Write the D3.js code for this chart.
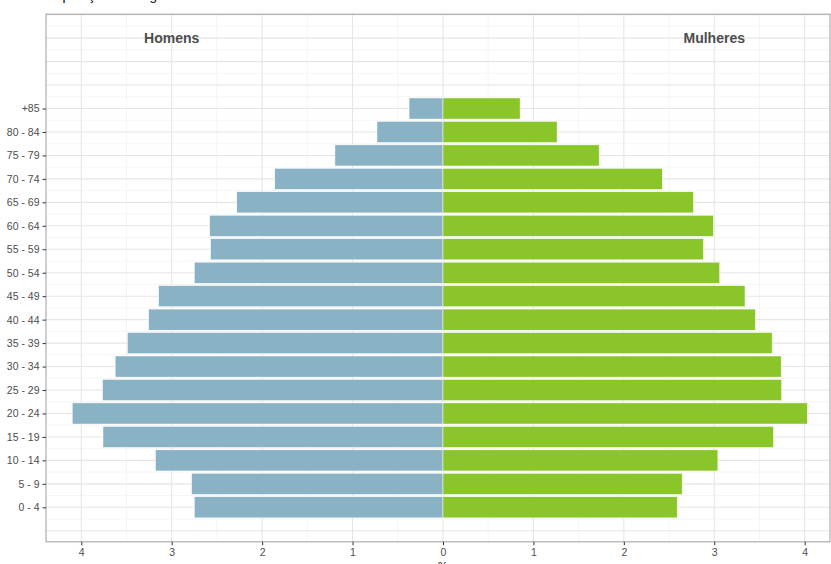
<!DOCTYPE html>
<html>
<head>
<meta charset="utf-8">
<script src="https://cdn.jsdelivr.net/npm/d3@7"></script>
<style>
  html, body { margin: 0; padding: 0; background: #fff; }
  svg { display: block; }
  text { font-family: "Liberation Sans", Arial, Helvetica, sans-serif; }
</style>
</head>
<body>
<svg id="chart" width="831" height="564"></svg>
<script>
// ---- data ----
const ageGroups = ["0 - 4","5 - 9","10 - 14","15 - 19","20 - 24","25 - 29","30 - 34","35 - 39","40 - 44","45 - 49","50 - 54","55 - 59","60 - 64","65 - 69","70 - 74","75 - 79","80 - 84","+85"];
const men   = [2.75, 2.78, 3.18, 3.76, 4.10, 3.765, 3.625, 3.49, 3.255, 3.145, 2.75, 2.57, 2.58, 2.28, 1.86, 1.195, 0.73, 0.375];
const women = [2.59, 2.645, 3.04, 3.655, 4.03, 3.745, 3.74, 3.64, 3.455, 3.34, 3.06, 2.88, 2.99, 2.77, 2.425, 1.727, 1.262, 0.853];
const xTicks = [-4, -3, -2, -1, 0, 1, 2, 3, 4];
const xTickLabels = ["4","3","2","1","0","1","2","3","4"];
const sexLabels = ["Homens", "Mulheres"];
const sexLabelX = [-3, 3];
const titleText = "População da Região";
const xTitle = "%";

// ---- layout ----
const svg = d3.select("#chart");
const panel = { left: 46, right: 830, top: 14.2, bottom: 541.8 };

const x = d3.scaleLinear().domain([-4.39, 4.28]).range([panel.left, panel.right]);
const y = d3.scaleLinear().domain([-0.47, 22.02]).range([panel.bottom, panel.top]);
const bandH = Math.abs(y(1) - y(0)) * 0.9;

// title (clipped at top, as in the reference)
svg.append("text").attr("x", 46).attr("y", -0.5).attr("font-size", 13.5)
  .attr("fill", "#000").text(titleText);

// panel background
svg.append("rect").attr("x", panel.left).attr("y", panel.top)
  .attr("width", panel.right - panel.left).attr("height", panel.bottom - panel.top)
  .attr("fill", "#fff");

const grid = svg.append("g");
// minor vertical gridlines
d3.range(-4.5, 4.6, 1).forEach(v => {
  if (x(v) > panel.left && x(v) < panel.right)
    grid.append("line").attr("x1", x(v)).attr("x2", x(v)).attr("y1", panel.top).attr("y2", panel.bottom)
      .attr("stroke", "#f2f2f2").attr("stroke-width", 0.8);
});
// minor horizontal gridlines
d3.range(-0.5, 22.1, 1).forEach(v => {
  if (y(v) > panel.top && y(v) < panel.bottom)
    grid.append("line").attr("x1", panel.left).attr("x2", panel.right).attr("y1", y(v)).attr("y2", y(v))
      .attr("stroke", "#f2f2f2").attr("stroke-width", 0.8);
});
// major vertical gridlines
xTicks.forEach(v => {
  grid.append("line").attr("x1", x(v)).attr("x2", x(v)).attr("y1", panel.top).attr("y2", panel.bottom)
    .attr("stroke", "#e6e6e6").attr("stroke-width", 1.1);
});
// major horizontal gridlines
d3.range(0, 22.1, 1).forEach(v => {
  if (y(v) > panel.top && y(v) < panel.bottom)
    grid.append("line").attr("x1", panel.left).attr("x2", panel.right).attr("y1", y(v)).attr("y2", y(v))
      .attr("stroke", "#e6e6e6").attr("stroke-width", 1.1);
});

// bars
const bars = svg.append("g");
ageGroups.forEach((g, i) => {
  const pos = i + 1;
  bars.append("rect")
    .attr("x", x(-men[i])).attr("width", x(0) - x(-men[i]))
    .attr("y", y(pos) - bandH / 2).attr("height", bandH)
    .attr("fill", "#89b2c4").attr("stroke", "#ffffff").attr("stroke-width", 0.5);
  bars.append("rect")
    .attr("x", x(0)).attr("width", x(women[i]) - x(0))
    .attr("y", y(pos) - bandH / 2).attr("height", bandH)
    .attr("fill", "#8ac62a").attr("stroke", "#ffffff").attr("stroke-width", 0.5);
});

// sex labels
sexLabels.forEach((s, i) => {
  svg.append("text").attr("x", x(sexLabelX[i])).attr("y", y(21))
    .attr("dy", "0.35em").attr("text-anchor", "middle")
    .attr("font-size", 14).attr("font-weight", "bold").attr("fill", "#4d4d4d").text(s);
});

// panel border
svg.append("rect").attr("x", panel.left).attr("y", panel.top)
  .attr("width", panel.right - panel.left).attr("height", panel.bottom - panel.top)
  .attr("fill", "none").attr("stroke", "#a6a6a6").attr("stroke-width", 1.1);

// x axis
const xAxis = d3.axisBottom(x).tickValues(xTicks)
  .tickFormat((d, i) => xTickLabels[i]).tickSize(3.5).tickPadding(3);
const gx = svg.append("g").attr("transform", `translate(0,${panel.bottom})`).call(xAxis);
gx.select(".domain").remove();
gx.selectAll(".tick line").attr("stroke", "#333");
gx.selectAll(".tick text").attr("font-size", 10.5).attr("fill", "#4d4d4d")
  .attr("font-family", "Liberation Sans, Arial, sans-serif");

// y axis
const yAxis = d3.axisLeft(y).tickValues(ageGroups.map((g, i) => i + 1))
  .tickFormat((d) => ageGroups[d - 1]).tickSize(3.5).tickPadding(3);
const gy = svg.append("g").attr("transform", `translate(${panel.left},0)`).call(yAxis);
gy.select(".domain").remove();
gy.selectAll(".tick line").attr("stroke", "#333");
gy.selectAll(".tick text").attr("font-size", 10.5).attr("fill", "#4d4d4d")
  .attr("font-family", "Liberation Sans, Arial, sans-serif");

// x title
svg.append("text").attr("x", x(0)).attr("y", 570).attr("text-anchor", "middle")
  .attr("font-size", 11).attr("fill", "#000").text(xTitle);
</script>
</body>
</html>
